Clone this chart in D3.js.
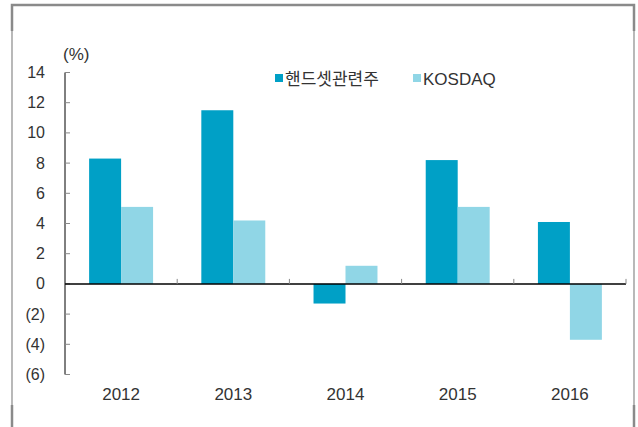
<!DOCTYPE html>
<html>
<head>
<meta charset="utf-8">
<script src="https://cdn.jsdelivr.net/npm/d3@7"></script>
<style>
  body { margin: 0; background: #fff; }
  text { font-family: "Liberation Sans", "Noto Sans CJK KR", sans-serif; fill: #333; }
</style>
</head>
<body>
<div id="chart"></div>
<script>
// chart values
var years = ["2012", "2013", "2014", "2015", "2016"];
var seriesNames = ["핸드셋관련주", "KOSDAQ"];
var handset = [8.3, 11.5, -1.3, 8.2, 4.1];
var kosdaq = [5.1, 4.2, 1.2, 5.1, -3.7];
var yTicks = [14, 12, 10, 8, 6, 4, 2, 0, -2, -4, -6];
var colors = ["#00a0c6", "#90d6e6"];

var width = 638, height = 427;
var svg = d3.select("#chart").append("svg")
  .attr("width", width)
  .attr("height", height);

// outer frame (partly cropped in the original)
var frame = svg.append("g").attr("stroke", "#8a8a8a").attr("fill", "none");
frame.append("path").attr("stroke-width", 2.5)
  .attr("d", "M12,31V5H634V31");
frame.append("path").attr("stroke-width", 1.2)
  .attr("d", "M12,31V405M634,31V405");
frame.append("path").attr("stroke-width", 2.5)
  .attr("d", "M12,405V427M634,405V427");

var y = d3.scaleLinear().domain([-6, 14]).range([374.5, 72.5]);
var x0 = d3.scaleBand().domain(years).range([65, 626])
  .paddingInner(0.43).paddingOuter(0.215);
var x1 = d3.scaleBand().domain(seriesNames).range([0, x0.bandwidth()]);

var rows = years.map(function(yr, i) {
  return { year: yr, values: [handset[i], kosdaq[i]] };
});

// y axis
svg.append("line")
  .attr("x1", 65).attr("x2", 65)
  .attr("y1", y(14)).attr("y2", y(-6))
  .attr("stroke", "#000").attr("stroke-width", 1);
svg.selectAll(".ytick")
  .data(yTicks)
  .enter().append("line")
  .attr("class", "ytick")
  .attr("x1", 65).attr("x2", 70)
  .attr("y1", d => y(d)).attr("y2", d => y(d))
  .attr("stroke", "#888");
svg.selectAll(".ylabel")
  .data(yTicks)
  .enter().append("text")
  .attr("class", "ylabel")
  .attr("x", 45)
  .attr("y", d => y(d) + 5.5)
  .attr("text-anchor", "end")
  .style("font-size", "16px")
  .text(d => d < 0 ? "(" + (-d) + ")" : d);

svg.append("text")
  .attr("x", 63).attr("y", 60)
  .style("font-size", "17px")
  .text("(%)");

// bars
var groups = svg.selectAll(".grp")
  .data(rows)
  .enter().append("g")
  .attr("class", "grp")
  .attr("transform", d => "translate(" + x0(d.year) + ",0)");
groups.selectAll("rect")
  .data(d => d.values.map((v, i) => ({ name: seriesNames[i], v: v, i: i })))
  .enter().append("rect")
  .attr("x", d => x1(d.name))
  .attr("width", x1.bandwidth())
  .attr("y", d => y(Math.max(0, d.v)))
  .attr("height", d => Math.abs(y(d.v) - y(0)))
  .attr("fill", d => colors[d.i]);

// zero line with category ticks
svg.append("line")
  .attr("x1", 65).attr("x2", 626)
  .attr("y1", y(0)).attr("y2", y(0))
  .attr("stroke", "#000").attr("stroke-width", 1.5);
var bounds = years.map(d => x0(d) - x0.step() * x0.paddingInner() / 2 + x0.step());
svg.selectAll(".xtick")
  .data(bounds)
  .enter().append("line")
  .attr("class", "xtick")
  .attr("x1", d => d).attr("x2", d => d)
  .attr("y1", y(0)).attr("y2", y(0) - 5)
  .attr("stroke", "#888");

svg.selectAll(".xlabel")
  .data(years)
  .enter().append("text")
  .attr("class", "xlabel")
  .attr("x", d => x0(d) + x0.bandwidth() / 2)
  .attr("y", 400)
  .attr("text-anchor", "middle")
  .style("font-size", "17px")
  .text(d => d);

// legend
var legendX = [275, 413];
var legend = svg.selectAll(".legend")
  .data(seriesNames)
  .enter().append("g")
  .attr("class", "legend")
  .attr("transform", (d, i) => "translate(" + legendX[i] + ",74)");
legend.append("rect")
  .attr("width", 8).attr("height", 8)
  .attr("fill", (d, i) => colors[i]);
legend.append("text")
  .attr("x", 10).attr("y", 11)
  .style("font-size", "17px")
  .text(d => d);
</script>
</body>
</html>
